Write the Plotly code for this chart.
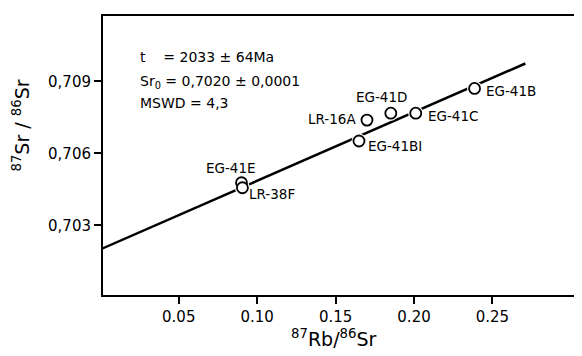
import plotly.graph_objects as go

# ---- data ----
sample_names = ["EG-41B", "EG-41C", "EG-41D", "LR-16A", "EG-41BI", "EG-41E", "LR-38F"]
rb_sr = [0.2386, 0.2011, 0.1852, 0.1700, 0.1649, 0.0900, 0.0906]
sr_sr = [0.70871, 0.70768, 0.70768, 0.70739, 0.70652, 0.70478, 0.70457]

isochron_x = [0.0, 0.271]
sr0 = 0.7020
slope = 0.0286
isochron_y = [sr0 + slope * v for v in isochron_x]

x_tickvals = [0.05, 0.10, 0.15, 0.20, 0.25]
x_ticktext = ["0.05", "0.10", "0.15", "0.20", "0.25"]
y_tickvals = [0.703, 0.706, 0.709]
y_ticktext = ["0,703", "0,706", "0,709"]

stats_lines = ["t\u00a0\u00a0\u00a0\u00a0= 2033 ± 64Ma",
               "Sr<sub>0</sub> = 0,7020 ± 0,0001",
               "MSWD = 4,3"]

# label placement (style)
label_style = {
    "EG-41B": dict(xanchor="left", xshift=9, yshift=-3),
    "EG-41C": dict(xanchor="left", xshift=10, yshift=-3),
    "EG-41D": dict(xanchor="center", xshift=-9, yshift=16),
    "LR-16A": dict(xanchor="right", xshift=-9, yshift=1),
    "EG-41BI": dict(xanchor="left", xshift=7, yshift=-5),
    "EG-41E": dict(xanchor="center", xshift=-10, yshift=15),
    "LR-38F": dict(xanchor="left", xshift=5, yshift=-6),
}

FONT = "DejaVu Sans"
OFF = 8  # default page body margin
W, H = 582 - OFF, 356 - OFF
ml, mr, mt, mb = 103 - OFF, 6, 14 - OFF, 61
pw, ph = W - ml - mr, H - mt - mb


def px_to_paper(px, py):
    """pixel position in the final screenshot -> paper coordinates"""
    return (px - OFF - ml) / pw, (H - (py - OFF) - mb) / ph


fig = go.Figure()

fig.add_trace(go.Scatter(x=isochron_x, y=isochron_y, mode="lines",
                         line=dict(color="black", width=2.5),
                         hoverinfo="skip", showlegend=False))
fig.add_trace(go.Scatter(x=rb_sr, y=sr_sr, mode="markers",
                         marker=dict(size=15, color="white", line=dict(width=0)),
                         hoverinfo="skip", showlegend=False))
fig.add_trace(go.Scatter(x=rb_sr, y=sr_sr, mode="markers",
                         marker=dict(size=11, color="white", symbol="circle",
                                     line=dict(color="black", width=1.8)),
                         text=sample_names, showlegend=False))

for name, xv, yv in zip(sample_names, rb_sr, sr_sr):
    st = label_style[name]
    fig.add_annotation(x=xv, y=yv, xref="x", yref="y", text=name, showarrow=False,
                       xanchor=st["xanchor"], yanchor="middle",
                       xshift=st["xshift"], yshift=st["yshift"],
                       font=dict(family=FONT, size=13.5, color="black"))

stat_y = [55, 80, 102]
for line_txt, py in zip(stats_lines, stat_y):
    ax, ay = px_to_paper(138, py)
    fig.add_annotation(x=ax, y=ay, xref="paper", yref="paper", text=line_txt,
                       showarrow=False, xanchor="left", yanchor="middle",
                       font=dict(family=FONT, size=14, color="black"))

ax, ay = px_to_paper(21, 124)
fig.add_annotation(x=ax, y=ay, xref="paper", yref="paper",
                   text="<sup>87</sup>Sr / <sup>86</sup>Sr", textangle=-90, showarrow=False,
                   xanchor="center", yanchor="middle",
                   font=dict(family=FONT, size=19, color="black"))
ax, ay = px_to_paper(335, 338)
fig.add_annotation(x=ax, y=ay, xref="paper", yref="paper",
                   text="<sup>87</sup>Rb/<sup>86</sup>Sr", showarrow=False,
                   xanchor="center", yanchor="middle",
                   font=dict(family=FONT, size=19, color="black"))

fig.update_layout(
    width=W, height=H,
    margin=dict(l=ml, r=mr, t=mt, b=mb),
    paper_bgcolor="white", plot_bgcolor="white",
    font=dict(family=FONT, size=15, color="black"),
    showlegend=False,
)
fig.update_xaxes(range=[0.0017, 0.302], tickvals=x_tickvals, ticktext=x_ticktext,
                 ticks="outside", ticklen=7, tickwidth=1.5, tickcolor="black",
                 showline=True, linecolor="black", linewidth=2, mirror=True,
                 showgrid=False, zeroline=False, tickfont=dict(size=15))
fig.update_yaxes(range=[0.7001, 0.71173], tickvals=y_tickvals, ticktext=y_ticktext,
                 ticks="outside", ticklen=7, tickwidth=1.5, tickcolor="black",
                 showline=True, linecolor="black", linewidth=2, mirror=True,
                 showgrid=False, zeroline=False, tickfont=dict(size=15))

fig.write_html("out.html")
